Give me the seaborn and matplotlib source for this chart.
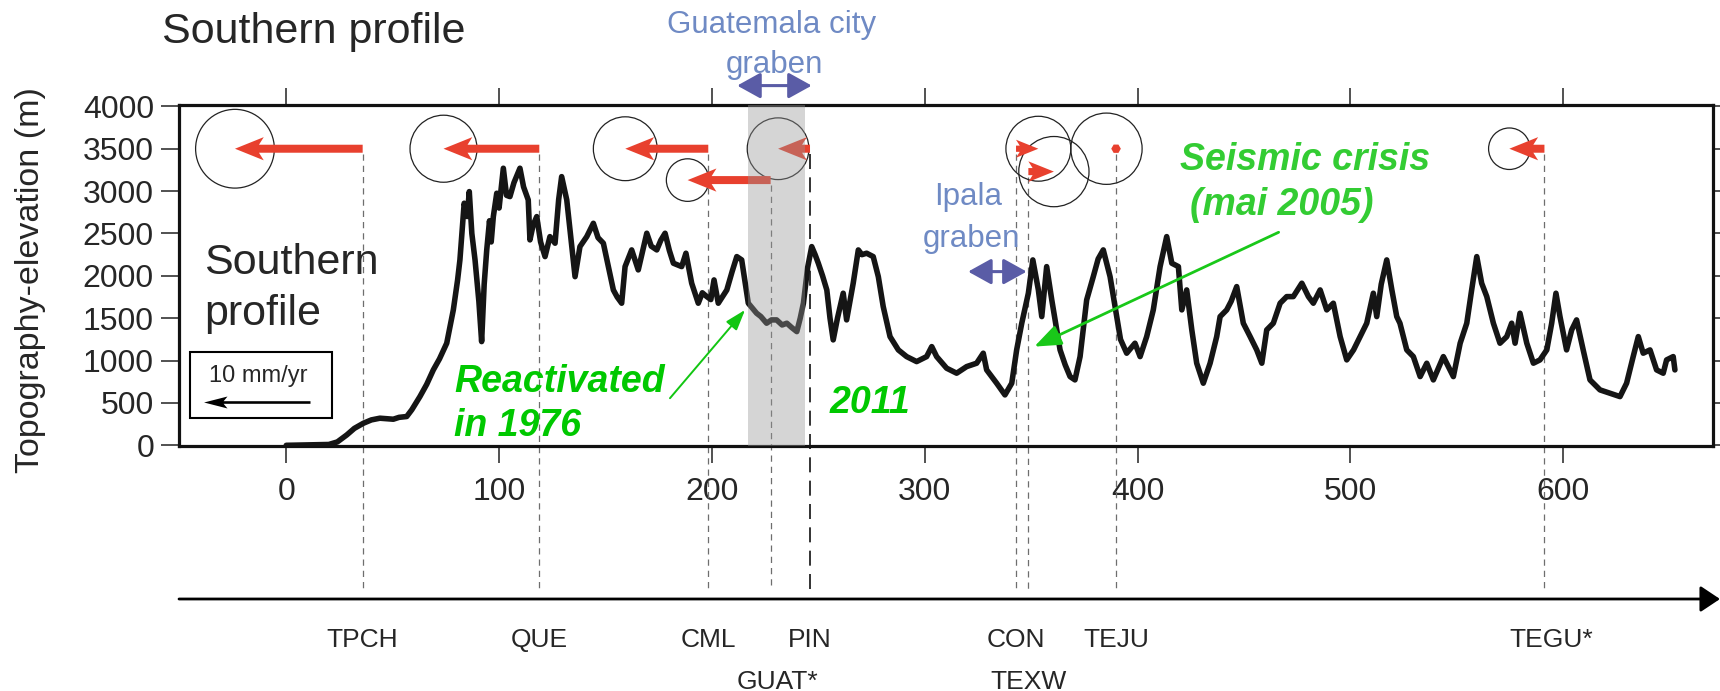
import matplotlib
matplotlib.use("Agg")
import matplotlib.pyplot as plt
from matplotlib.patches import Ellipse, Rectangle
import numpy as np
import pandas as pd
import seaborn as sns

sns.set_style("ticks")
plt.rcParams["font.family"] = ["Liberation Sans", "DejaVu Sans"]

# ---------------- data ----------------
profile_km = [0, 10, 20, 24, 28.4, 32, 36.2, 40, 44, 50.3, 53, 56.6, 59, 62.8, 66, 69.1, 72, 75.4,
              78.5, 80.5, 81.6, 83.6, 85, 86, 87.2, 88.7, 90.5, 91.8, 93, 94.2, 95.5, 96.3, 97.3,
              98.9, 100, 102, 103.5, 105.1, 107, 109.8, 111.5, 113.7, 114.5, 116, 117.7, 119.5,
              121.6, 123.9, 126.3, 128, 129.4, 131.8, 133.5, 135.7, 138, 141.2, 144.3, 146.5, 149,
              151, 153.7, 155.5, 157.6, 159.2, 162.3, 165.4, 167.5, 169.4, 171.5, 174.1, 176, 178,
              180, 181.9, 185.8, 187.8, 190.5, 193.6, 195.5, 197.6, 199.5, 201, 203, 207, 209.5,
              211.7, 214, 217.1, 221, 223, 225.7, 228, 230.4, 233, 235.2, 237.5, 239.9, 241.5, 243,
              245, 246.9, 248.5, 250, 252, 254, 255.5, 257, 259, 261.7, 263.3, 266.4, 268.8, 270.5,
              272.7, 275.8, 278.2, 280.5, 283.7, 287.6, 291.5, 296.2, 300.9, 303.3, 305.6, 310.3,
              315, 319.7, 324.4, 327.5, 329.1, 333.8, 337.7, 340.9, 343.2, 345.6, 348.7, 350.8,
              353.4, 355, 357.3, 359.7, 363.6, 366, 368.3, 370.6, 373, 376.1, 379.2, 381.5, 383.9,
              387.1, 390.2, 392, 394.9, 398.8, 401.2, 404.3, 407.4, 410.6, 413.7, 416.1, 419.2,
              420.8, 423.1, 425.5, 427.8, 430.9, 434.1, 437.2, 438.8, 441.9, 444, 446.6, 449.7,
              452.9, 456, 458.4, 460.7, 463.8, 467, 470.1, 473.2, 477.2, 480.3, 482.6, 485.8,
              488.9, 492, 495.2, 498.3, 501.5, 504.6, 507.7, 510.8, 512.4, 514.5, 517.1, 519.5,
              521.8, 523.3, 526.5, 529.6, 532.8, 535.9, 539, 543.7, 548.4, 551.6, 554.7, 557,
              559.4, 561.7, 564.1, 567.2, 570.3, 573.5, 575.8, 577.4, 579.7, 582.9, 586, 589.1,
              592.3, 594.6, 596.6, 598.5, 601.6, 604, 606.3, 609.4, 612.6, 617.3, 622, 626.7,
              629.8, 632.9, 635.3, 637.6, 640.8, 643.9, 647, 648.6, 651.7, 652.5]
profile_m = [0, 5, 10, 40, 122, 200, 260, 300, 320, 308, 330, 340, 420, 575, 720, 890, 1020, 1205,
             1598, 1950, 2188, 2857, 2700, 2994, 2500, 2188, 1700, 1224, 1900, 2306, 2650, 2400, 2699,
             2975, 2800, 3270, 2950, 2935, 3100, 3270, 3050, 2896, 2424, 2600, 2699, 2400,
             2227, 2463, 2385, 2900, 3171, 2896, 2500, 1990, 2345, 2463, 2620, 2450, 2385,
             2150, 1833, 1750, 1677, 2109, 2306, 2070, 2300, 2503, 2350, 2306, 2420, 2503,
             2300, 2149, 2109, 2267, 1913, 1677, 1800, 1755, 1720, 1952, 1677, 1833, 2050,
             2227, 2188, 1677, 1559, 1520, 1441, 1480, 1480, 1420, 1441, 1390, 1342, 1500, 1677,
             2100, 2345, 2250, 2149, 2000, 1833, 1500, 1244, 1500, 1795, 1480, 1913, 2306, 2250,
             2267, 2227, 1990, 1637, 1283, 1126, 1047, 988, 1047, 1165, 1047, 910,
             851, 929, 969, 1087, 890, 733, 595, 733, 1126, 1441, 1795, 2188,
             1834, 1519, 2109, 1716, 1126, 950, 811, 772, 1047, 1716, 1990, 2200, 2306,
             1990, 1519, 1250, 1087, 1205, 1047, 1283, 1598, 2109, 2463, 2149, 2109,
             1598, 1834, 1362, 969, 733, 969, 1283, 1519, 1598, 1700, 1873, 1441,
             1283, 1126, 969, 1362, 1441, 1677, 1755, 1755, 1913, 1755, 1677, 1834,
             1598, 1677, 1283, 1008, 1126, 1283, 1441, 1795, 1519, 1900, 2188, 1834,
             1519, 1441, 1126, 1047, 811, 969, 772, 1047, 811, 1205, 1441, 1834,
             2227, 1913, 1755, 1441, 1205, 1283, 1441, 1205, 1559, 1205, 969, 1008,
             1126, 1441, 1795, 1519, 1126, 1362, 1480, 1126, 772, 654, 615, 575,
             733, 1047, 1283, 1087, 1126, 890, 851, 1008, 1047, 890]

stations = ["TPCH", "QUE", "CML", "GUAT*", "PIN", "CON", "TEXW", "TEJU", "TEGU*"]
station_km = [35.9, 118.9, 198.3, 227.6, 246.1, 342.9, 348.7, 389.9, 591.2]
label_row = [0, 0, 0, 1, 0, 0, 1, 0, 0]
vel_east = [-12.0, -9.0, -7.8, -7.8, -3.0, 2.1, 2.4, -0.9, -3.3]    # mm/yr
vel_err = [3.7, 3.15, 3.0, 2.0, 2.9, 3.05, 3.3, 3.35, 1.95]          # mm/yr (radius)
vel_level = [3500, 3500, 3500, 3130, 3500, 3500, 3230, 3500, 3500]    # drawing height (m)
KM_PER_MMYR = 5.0
legend_vel = 10

x_ticks = [0, 100, 200, 300, 400, 500, 600]
y_ticks = [0, 500, 1000, 1500, 2000, 2500, 3000, 3500, 4000]
graben_span = (217.1, 243.8)

# ---------------- figure ----------------
W, H = 1720, 691
fig = plt.figure(figsize=(W / 100, H / 100), dpi=100)
ax = fig.add_axes([179 / W, 245 / H, 1534 / W, 341 / H])
ax.set_xlim(-50.4, 670.4)
ax.set_ylim(-8, 4016)

df = pd.DataFrame({"km": profile_km, "m": profile_m})
sns.lineplot(data=df, x="km", y="m", ax=ax, color="#151515", linewidth=4.0,
             estimator=None, sort=False, zorder=3)

ax.set_xticks(x_ticks)
ax.set_yticks(y_ticks)
ax.set_xlabel("")
ax.set_ylabel("")
ax.tick_params(axis="x", direction="out", length=12, width=1.2, labelsize=23, pad=10,
               top=True, labeltop=False, color="#333333")
ax.tick_params(axis="y", direction="out", length=13, width=1.2, labelsize=23, pad=5,
               right=True, labelright=False, color="#333333")
for s in ax.spines.values():
    s.set_linewidth(2.3)
    s.set_color("#111111")
    s.set_visible(True)

fig.text(31 / W, 1 - 280 / H, "Topography-elevation (m)", rotation=90, fontsize=24.5,
         ha="center", va="center")
fig.text(162 / W, 1 - 43 / H, "Southern profile", fontsize=31, ha="left", va="baseline")

# station dashed lines extending below the axes
y_low = ax.transData.inverted().transform(fig.transFigure.transform((0, (H - 590) / H)))[1]
for name, xk, lev in zip(stations, station_km, vel_level):
    if name == "PIN":
        ax.plot([xk, xk], [lev - 60, y_low], color="#111111", lw=1.2, ls=(0, (9, 5)),
                clip_on=False, zorder=2)
    else:
        ax.plot([xk, xk], [lev - 60, y_low], color="#6e6e6e", lw=0.9, ls=(0, (5, 4)),
                clip_on=False, zorder=2)

# velocity arrows
ax.quiver(station_km, vel_level, vel_east, np.zeros(len(vel_east)), angles="xy",
          scale_units="xy", scale=1 / KM_PER_MMYR, pivot="tail", color="#e8402e",
          width=8 / 1534, headwidth=2.9, headlength=3.6, headaxislength=3.0,
          minlength=1.2, zorder=5)

# error circles (round in pixels)
ratio = ((ax.get_ylim()[1] - ax.get_ylim()[0]) / ax.bbox.height) / \
        ((ax.get_xlim()[1] - ax.get_xlim()[0]) / ax.bbox.width)
for xk, v, e, lev in zip(station_km, vel_east, vel_err, vel_level):
    d = 2 * e * KM_PER_MMYR
    ax.add_patch(Ellipse((xk + v * KM_PER_MMYR, lev), width=d, height=d * ratio,
                         fill=False, ec="#222222", lw=0.9, zorder=4))

# scale box
ax.add_patch(Rectangle((-45.3, 323), 66.8, 779, fill=False, ec="black", lw=1.5, zorder=5))
ax.quiver([11.1], [516], [-legend_vel], [0], angles="xy", scale_units="xy",
          scale=1 / KM_PER_MMYR, pivot="tail", color="black", width=2.6 / 1534,
          headwidth=4.6, headlength=9, headaxislength=7.5, zorder=5)
ax.text(-13.3, 748, "10 mm/yr", fontsize=17, ha="center", va="baseline", zorder=5)

# graben band
ax.axvspan(*graben_span, color="#979797", alpha=0.4, lw=0, zorder=6)

# in-plot text
ax.text(-38.7, 2022, "Southern", fontsize=31, ha="left", va="baseline")
ax.text(-38.7, 1421, "profile", fontsize=31, ha="left", va="baseline")

blue_t = "#6f8ac4"
blue_a = "#5a5ca6"
ax.text(227.8, 4866, "Guatemala city", fontsize=22.5, color=blue_t, ha="center", va="baseline")
ax.text(229.6, 4394, "graben", fontsize=22.5, color=blue_t, ha="center", va="baseline")
ax.annotate("", xy=(211.9, 4245), xytext=(246.9, 4245), annotation_clip=False,
            arrowprops=dict(arrowstyle="<|-|>,head_length=0.65,head_width=0.36", color=blue_a,
                            lw=2.2, mutation_scale=22, shrinkA=0, shrinkB=0))
ax.text(320.3, 2837, "Ipala", fontsize=22.5, color=blue_t, ha="center", va="baseline")
ax.text(321.9, 2345, "graben", fontsize=22.5, color=blue_t, ha="center", va="baseline")
ax.annotate("", xy=(320.4, 2050), xytext=(347.9, 2050),
            arrowprops=dict(arrowstyle="<|-|>,head_length=0.65,head_width=0.36", color=blue_a,
                            lw=2.2, mutation_scale=22, shrinkA=0, shrinkB=0))

green1 = "#00c800"
green2 = "#33cc33"
ax.text(78.8, 630, "Reactivated", fontsize=27, color=green1, fontweight="bold",
        fontstyle="italic", ha="left", va="baseline")
ax.text(78.8, 110, "in 1976", fontsize=27, color=green1, fontweight="bold",
        fontstyle="italic", ha="left", va="baseline")
ax.annotate("", xy=(215.6, 1598), xytext=(180.3, 556),
            arrowprops=dict(arrowstyle="-|>,head_length=0.9,head_width=0.3", color="#12c612",
                            lw=1.4, mutation_scale=14, shrinkA=0, shrinkB=0))
ax.text(255.5, 383, "2011", fontsize=27, color=green1, fontweight="bold",
        fontstyle="italic", ha="left", va="baseline")
ax.text(420, 3248, "Seismic crisis", fontsize=27, color=green2, fontweight="bold",
        fontstyle="italic", ha="left", va="baseline")
ax.text(424.7, 2717, "(mai 2005)", fontsize=27, color=green2, fontweight="bold",
        fontstyle="italic", ha="left", va="baseline")
ax.annotate("", xy=(351.5, 1165), xytext=(466.3, 2514),
            arrowprops=dict(arrowstyle="-|>,head_length=0.9,head_width=0.35", color="#19c819",
                            lw=2.0, mutation_scale=18, shrinkA=0, shrinkB=0))

# lower distance arrow and station labels
ax.annotate("", xy=(1.0, (H - 599) / H), xytext=(179 / W, (H - 599) / H),
            xycoords="figure fraction", textcoords="figure fraction",
            arrowprops=dict(arrowstyle="-|>,head_length=0.6,head_width=0.4", color="black",
                            lw=2.0, mutation_scale=20, shrinkA=0, shrinkB=0))
row_base = [(H - 647) / H, (H - 689) / H]
for name, xk, r in zip(stations, station_km, label_row):
    off = 5 if name.endswith("*") else 0
    ax.annotate(name, xy=(xk, row_base[r]), xycoords=("data", "figure fraction"),
                xytext=(off, 0), textcoords="offset points", fontsize=19,
                ha="center", va="baseline", annotation_clip=False)

fig.savefig("out.png", dpi=100)
